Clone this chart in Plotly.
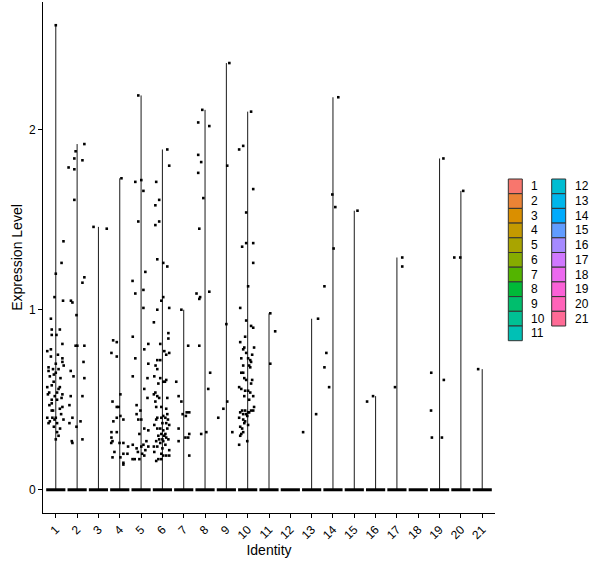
import math

import numpy as np
import plotly.graph_objects as go

clusters = ["1", "2", "3", "4", "5", "6", "7", "8", "9", "10", "11",
            "12", "13", "14", "15", "16", "17", "18", "19", "20", "21"]

# non-zero cells per cluster as (jitter offset, expression level)
pts_01 = [(0.00, 2.58), (0.36, 1.38), (0.27, 1.26), (0.00, 1.20), (-0.06, 1.07), (0.34, 1.05),
          (-0.23, 0.95), (-0.19, 0.89), (0.19, 0.89), (-0.19, 0.86), (0.03, 0.86), (0.31, 0.81),
          (-0.40, 0.77), (-0.23, 0.78), (-0.23, 0.74), (0.31, 0.73), (0.31, 0.71), (0.00, 0.70),
          (0.37, 0.69), (-0.34, 0.68), (-0.13, 0.67), (-0.34, 0.66), (0.13, 0.67), (0.00, 0.65),
          (-0.09, 0.64), (-0.28, 0.63), (0.22, 0.62), (-0.19, 0.58), (-0.40, 0.57), (0.19, 0.57),
          (0.13, 0.56), (-0.31, 0.54), (0.06, 0.54), (-0.37, 0.53), (0.31, 0.53), (-0.19, 0.50),
          (0.27, 0.51), (0.06, 0.50), (-0.19, 0.48), (0.31, 0.46), (0.19, 0.45), (-0.19, 0.44),
          (-0.13, 0.44), (0.00, 0.40), (-0.40, 0.40), (-0.16, 0.40), (-0.06, 0.39), (-0.28, 0.38),
          (0.36, 0.39), (-0.34, 0.37), (0.06, 0.37), (-0.09, 0.35), (0.06, 0.32), (0.13, 0.30),
          (0.00, 0.28), (-0.10, 0.60), (0.25, 0.42), (-0.30, 0.47), (0.10, 0.75), (-0.05, 0.52),
          (0.20, 0.34)]
pts_02 = [(0.34, 1.92), (-0.07, 1.88), (-0.13, 1.84), (0.25, 1.83), (-0.40, 1.79), (-0.13, 1.78),
          (-0.13, 1.61), (0.34, 1.18), (0.25, 1.15), (-0.22, 1.04), (-0.29, 1.05), (-0.03, 0.97),
          (-0.07, 0.80), (0.01, 0.80), (0.34, 0.80), (0.30, 0.71), (-0.30, 0.66), (-0.17, 0.63),
          (0.34, 0.62), (0.25, 0.52), (-0.30, 0.52), (-0.36, 0.47), (-0.22, 0.40), (0.16, 0.38),
          (-0.36, 0.37), (-0.03, 0.35), (0.25, 0.28), (-0.25, 0.27), (-0.22, 0.26)]
pts_03 = [(-0.23, 1.46), (0.39, 1.45)]
pts_04 = [(0.08, 1.73), (-0.31, 0.83), (-0.14, 0.82), (-0.39, 0.76), (-0.14, 0.74), (0.03, 0.53),
          (-0.34, 0.49), (-0.14, 0.46), (-0.05, 0.46), (0.03, 0.41), (-0.14, 0.40), (0.17, 0.39),
          (-0.30, 0.38), (-0.39, 0.32), (-0.14, 0.32), (-0.39, 0.29), (-0.34, 0.27), (-0.40, 0.26),
          (-0.01, 0.26), (0.17, 0.26), (-0.25, 0.21), (0.17, 0.20), (0.03, 0.18), (-0.34, 0.18),
          (0.17, 0.15), (0.17, 0.14), (0.39, 0.24), (0.36, 0.20)]
pts_05 = [(-0.13, 2.19), (-0.27, 1.71), (0.01, 1.72), (0.11, 1.66), (-0.13, 1.49), (0.20, 1.21),
          (0.11, 1.11), (-0.27, 1.09), (-0.40, 1.16), (0.11, 1.01), (-0.39, 0.85), (0.34, 0.81),
          (0.15, 0.78), (-0.27, 0.73), (0.34, 0.70), (-0.39, 0.63), (0.30, 0.62), (0.15, 0.56),
          (0.30, 0.51), (-0.21, 0.47), (-0.03, 0.44), (-0.21, 0.42), (-0.13, 0.39), (0.01, 0.39),
          (0.15, 0.34), (0.34, 0.33), (-0.08, 0.31), (0.11, 0.25), (0.01, 0.24), (0.34, 0.24),
          (-0.39, 0.25), (-0.21, 0.23), (0.15, 0.19), (-0.08, 0.17), (-0.30, 0.17), (-0.40, 0.17),
          (0.20, 0.22), (0.05, 0.20), (-0.15, 0.21), (0.25, 0.27)]
pts_06 = [(0.23, 1.89), (0.32, 1.80), (-0.29, 1.71), (-0.15, 1.61), (-0.33, 1.58), (-0.15, 1.49),
          (-0.33, 1.47), (-0.24, 1.28), (0.04, 1.26), (0.23, 1.24), (0.04, 1.07), (-0.05, 1.05),
          (-0.24, 1.00), (0.32, 1.01), (-0.40, 0.93), (0.28, 0.87), (0.28, 0.84), (-0.10, 0.81),
          (0.09, 0.77), (0.18, 0.75), (0.32, 0.76), (-0.24, 0.72), (-0.10, 0.72), (-0.32, 0.69),
          (-0.24, 0.67), (-0.38, 0.63), (-0.10, 0.62), (0.18, 0.61), (0.04, 0.60), (0.12, 0.60),
          (-0.19, 0.59), (-0.33, 0.54), (-0.40, 0.53), (-0.24, 0.52), (-0.15, 0.51), (0.23, 0.51),
          (-0.33, 0.49), (-0.29, 0.46), (-0.05, 0.46), (0.18, 0.45), (0.04, 0.41), (0.23, 0.42),
          (-0.24, 0.40), (-0.05, 0.40), (0.14, 0.40), (0.26, 0.39), (-0.29, 0.39), (0.00, 0.37),
          (0.18, 0.37), (0.32, 0.36), (-0.38, 0.36), (-0.10, 0.34), (-0.24, 0.34), (0.23, 0.34),
          (0.04, 0.33), (0.14, 0.31), (-0.05, 0.31), (0.09, 0.30), (-0.19, 0.30), (0.18, 0.29),
          (0.00, 0.28), (-0.15, 0.28), (0.28, 0.28), (0.04, 0.27), (-0.29, 0.27), (-0.10, 0.26),
          (0.14, 0.25), (-0.40, 0.24), (-0.24, 0.24), (0.00, 0.23), (0.32, 0.22), (-0.38, 0.21),
          (-0.05, 0.20), (0.18, 0.19), (0.04, 0.19), (0.32, 0.19), (-0.19, 0.17), (-0.05, 0.17),
          (-0.29, 0.16)]
pts_07 = [(-0.11, 1.00), (0.21, 0.80), (-0.35, 0.60), (-0.24, 0.52), (-0.11, 0.49), (-0.05, 0.42),
          (0.14, 0.43), (0.10, 0.41), (0.26, 0.43), (-0.24, 0.34), (0.26, 0.31), (0.08, 0.29),
          (0.21, 0.29), (-0.24, 0.27), (0.26, 0.19)]
pts_08 = [(-0.13, 2.11), (-0.32, 2.04), (0.20, 2.02), (-0.32, 1.86), (-0.18, 1.82), (-0.32, 1.76),
          (-0.08, 1.62), (-0.27, 1.45), (-0.40, 1.09), (-0.23, 1.07), (-0.27, 1.06), (0.20, 1.10),
          (-0.27, 0.80), (0.24, 0.65), (0.15, 0.56), (0.06, 0.32), (-0.18, 0.31)]
pts_09 = [(0.14, 2.37), (0.04, 1.80), (0.00, 0.92), (0.04, 0.49), (-0.14, 0.45), (-0.38, 0.40),
          (0.28, 0.32)]
pts_10 = [(0.16, 2.10), (-0.21, 1.91), (-0.40, 1.89), (0.26, 1.67), (-0.07, 1.54), (0.26, 1.37),
          (-0.07, 1.37), (-0.26, 1.35), (0.26, 1.26), (0.02, 1.13), (-0.35, 1.01), (-0.07, 0.94),
          (0.16, 0.91), (0.26, 0.90), (-0.12, 0.85), (-0.35, 0.82), (-0.16, 0.79), (0.30, 0.79),
          (-0.21, 0.78), (-0.07, 0.76), (0.21, 0.75), (-0.30, 0.73), (0.02, 0.73), (0.12, 0.72),
          (0.16, 0.71), (-0.21, 0.69), (0.07, 0.69), (0.12, 0.68), (-0.30, 0.65), (-0.21, 0.65),
          (-0.16, 0.62), (-0.07, 0.61), (0.21, 0.61), (0.16, 0.59), (-0.40, 0.57), (-0.30, 0.56),
          (-0.12, 0.55), (0.02, 0.55), (0.12, 0.54), (0.26, 0.52), (-0.16, 0.52), (0.07, 0.50),
          (0.30, 0.46), (-0.26, 0.44), (-0.12, 0.44), (0.02, 0.43), (0.16, 0.44), (0.26, 0.44),
          (-0.35, 0.43), (-0.21, 0.42), (-0.07, 0.42), (0.07, 0.43), (-0.02, 0.41), (-0.40, 0.40),
          (-0.21, 0.39), (-0.12, 0.38), (-0.16, 0.37), (0.02, 0.36), (-0.35, 0.35), (-0.26, 0.34),
          (-0.21, 0.32), (-0.30, 0.31), (-0.35, 0.30), (-0.02, 0.27), (-0.40, 0.25)]
pts_11 = [(0.06, 0.98), (0.29, 0.88), (0.06, 0.70)]
pts_12 = []
pts_13 = [(0.30, 0.95), (-0.40, 0.32), (0.21, 0.42)]
pts_14 = [(0.25, 2.18), (-0.40, 1.13), (-0.03, 1.64), (0.11, 1.57), (0.03, 1.34), (-0.31, 0.76),
          (-0.40, 0.68), (-0.18, 0.57)]
pts_15 = [(0.15, 1.55)]
pts_16 = [(-0.12, 0.52), (-0.40, 0.49)]
pts_17 = [(0.25, 1.29), (0.25, 1.24), (-0.09, 0.57)]
pts_18 = []
pts_19 = [(0.18, 1.84), (-0.39, 0.65), (0.20, 0.61), (-0.40, 0.44), (-0.36, 0.29), (0.11, 0.29)]
pts_20 = [(0.11, 1.66), (-0.31, 1.29), (-0.03, 1.29)]
pts_21 = [(-0.19, 0.67)]

all_pts = [pts_01, pts_02, pts_03, pts_04, pts_05, pts_06, pts_07, pts_08, pts_09, pts_10,
           pts_11, pts_12, pts_13, pts_14, pts_15, pts_16, pts_17, pts_18, pts_19, pts_20,
           pts_21]


def hcl_hex(h, c=100.0, l=65.0):
    # same maths as R's hcl(), used by ggplot's hue palette
    wy, wu, wv = 100.0, 0.1978398, 0.4683363
    hr = math.radians(h)
    U, V = c * math.cos(hr), c * math.sin(hr)
    Y = wy * ((l + 16) / 116) ** 3
    u = U / (13 * l) + wu
    v = V / (13 * l) + wv
    X = 9.0 * Y * u / (4 * v)
    Z = -X / 3 - 5 * Y + 3 * Y / v

    def gam(t):
        t = 1.055 * t ** (1 / 2.4) - 0.055 if t > 0.00304 else 12.92 * t
        return int(round(min(max(t, 0.0), 1.0) * 255))

    r = gam((3.240479 * X - 1.537150 * Y - 0.498535 * Z) / wy)
    g = gam((-0.969256 * X + 1.875992 * Y + 0.041556 * Z) / wy)
    b = gam((0.055648 * X - 0.204043 * Y + 1.057311 * Z) / wy)
    return f"#{r:02X}{g:02X}{b:02X}"


hues = np.linspace(15, 375, len(clusters) + 1)[:-1]
colors = [hcl_hex(h) for h in hues]

fig = go.Figure()

# violin outlines: base at 0 (all the zero cells) and a hairline up to the max
base_x, base_y, stem_x, stem_y = [], [], [], []
for i, pts in enumerate(all_pts, start=1):
    base_x += [i - 0.45, i + 0.45, None]
    base_y += [0, 0, None]
    top = max([p[1] for p in pts], default=0)
    if top > 0:
        stem_x += [i, i, None]
        stem_y += [0, top, None]

fig.add_trace(go.Scatter(x=stem_x, y=stem_y, mode="lines",
                         line={"color": "#1a1a1a", "width": 1}, hoverinfo="skip"))
fig.add_trace(go.Scatter(x=base_x, y=base_y, mode="lines",
                         line={"color": "black", "width": 3}, hoverinfo="skip"))

px, py = [], []
for i, pts in enumerate(all_pts, start=1):
    for off, val in pts:
        px.append(i + off)
        py.append(val)
fig.add_trace(go.Scatter(x=px, y=py, mode="markers",
                         marker={"color": "black", "size": 2.6, "symbol": "square"}))

ymax = max(py)
pad = 0.05 * ymax

font = "Arial, Liberation Sans, sans-serif"
W, H = 600, 568
ml, mr, mt, mb = 43, 105, 2, 55


def xpap(p):
    return (p - ml) / (W - ml - mr)


def ypap(p):
    return (H - mb - p) / (H - mt - mb)


# legend drawn by hand in two columns, like ggplot
row_h = 14.7
for k, (lab, col) in enumerate(zip(clusters, colors)):
    c, r = divmod(k, 11)
    x0 = 508.3 + c * 43.4
    y0 = 179 + r * row_h
    fig.add_shape(type="rect", xref="paper", yref="paper",
                  x0=xpap(x0), x1=xpap(x0 + 14), y0=ypap(y0 + row_h), y1=ypap(y0),
                  fillcolor=col, line={"color": "#333333", "width": 1})
    fig.add_annotation(xref="paper", yref="paper", x=xpap(x0 + 21), y=ypap(y0 + row_h / 2),
                       text=lab, showarrow=False, xanchor="left", yanchor="middle",
                       font={"family": font, "size": 12, "color": "black"})

fig.update_layout(
    width=W, height=H,
    margin={"l": ml, "r": mr, "t": mt, "b": mb, "autoexpand": False},
    plot_bgcolor="white", paper_bgcolor="white",
    showlegend=False,
    font={"family": font, "color": "black"},
)
fig.update_xaxes(
    range=[0.4, len(clusters) + 0.6], tickvals=list(range(1, len(clusters) + 1)),
    ticktext=clusters, tickangle=-45, showgrid=False, zeroline=False,
    showline=True, linecolor="black", linewidth=1, ticks="outside", ticklen=4,
    tickcolor="black", tickfont={"size": 12, "color": "black"}, automargin=False,
    title={"text": "Identity", "font": {"size": 14}, "standoff": 2},
)
fig.update_yaxes(
    range=[-pad, ymax + pad], tickvals=[0, 1, 2], showgrid=False, zeroline=False,
    showline=True, linecolor="black", linewidth=1, ticks="outside", ticklen=4,
    tickcolor="black", tickfont={"size": 12, "color": "black"}, automargin=False,
    title={"text": "Expression Level", "font": {"size": 14}, "standoff": 3},
)

# the page's default 8px body margin would shift the chart
fig.write_html("out.html", config={"displayModeBar": False},
               post_script="document.body.style.margin = '0';")
